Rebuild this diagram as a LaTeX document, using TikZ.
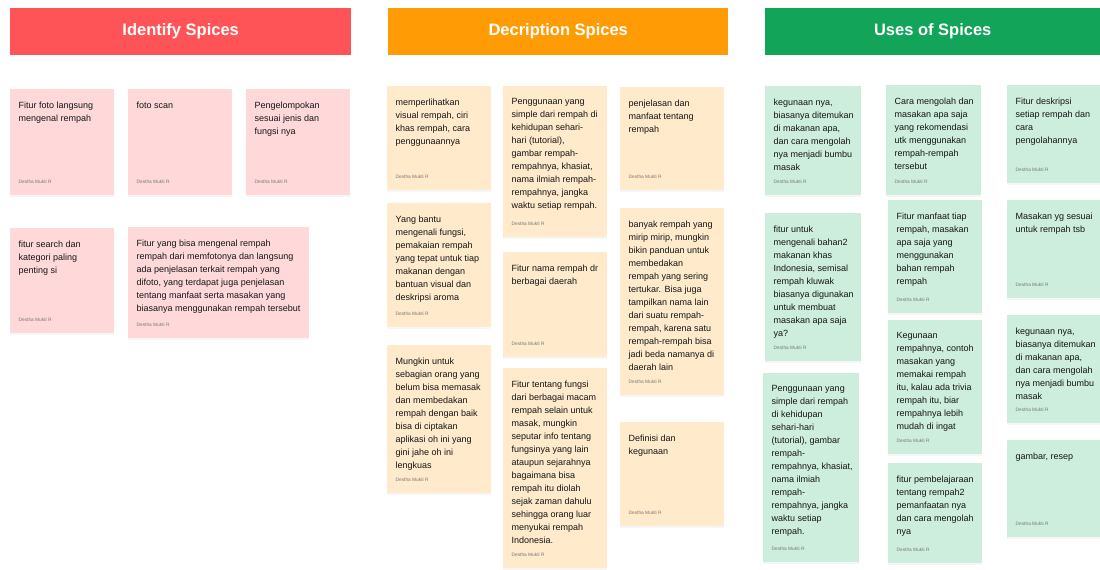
\documentclass[tikz,border=0pt]{standalone}
\usepackage{fontspec}
\setmainfont{Liberation Sans}
\usetikzlibrary{shadows}
\definecolor{hred}{HTML}{FF5457}
\definecolor{horange}{HTML}{FF9C05}
\definecolor{hgreen}{HTML}{12A559}
\definecolor{pinknote}{HTML}{FFD9DA}
\definecolor{creamnote}{HTML}{FFEACB}
\definecolor{mintnote}{HTML}{CDEEDD}
\definecolor{authorgrey}{HTML}{777777}
\definecolor{notetext}{HTML}{151515}
\tikzset{
 header/.style={rectangle, inner sep=0pt, anchor=north west, text=white, font=\fontsize{16.5}{19}\selectfont\bfseries},
 note/.style={rectangle, inner sep=0pt, anchor=north west, drop shadow={shadow xshift=0pt, shadow yshift=-1.5pt, opacity=0.07}},
 notetxt/.style={inner sep=0pt, anchor=north west, align=left, text=notetext, font=\fontsize{9}{13}\selectfont},
 author/.style={inner sep=0pt, anchor=west, text=authorgrey, font=\fontsize{4.8}{5}\selectfont},
}
\newcommand\stickynote[7]{%
 \node[note, fill=#6, minimum width=#4pt, minimum height=#5pt] (#1) at (#2,#3) {};
 \node[notetxt] (#1t) at ([xshift=8.5pt,yshift=-12.5pt]#1.north west) {#7};
 \node[author] (#1a) at ([xshift=8.5pt,yshift=14pt]#1.south west) {Destha Mukti R};
}
\begin{document}
\begin{tikzpicture}[x=1pt,y=-1pt]
\useasboundingbox (0,0) rectangle (1100,570);
\fill[white] (0,0) rectangle (1100,570);
% headers
\node[header, fill=hred, minimum width=341pt, minimum height=47pt] (h1) at (10,8) {Identify Spices};
\node[header, fill=horange, minimum width=340pt, minimum height=47pt] (h2) at (388,8) {Decription Spices};
\node[header, fill=hgreen, minimum width=335pt, minimum height=47pt] (h3) at (765,8) {Uses of Spices};
% Identify
\stickynote{a1}{10}{89}{104}{106}{pinknote}{Fitur foto langsung\\mengenal rempah}
\stickynote{a2}{128}{89}{104}{106}{pinknote}{foto scan}
\stickynote{a3}{246}{89}{104}{106}{pinknote}{Pengelompokan\\sesuai jenis dan\\fungsi nya}
\stickynote{a4}{10}{228}{104}{105}{pinknote}{fitur search dan\\kategori paling\\penting si}
\stickynote{a5}{128}{227}{181}{111}{pinknote}{Fitur yang bisa mengenal rempah\\rempah dari memfotonya dan langsung\\ada penjelasan terkait rempah yang\\difoto, yang terdapat juga penjelasan\\tentang manfaat serta masakan yang\\biasanya menggunakan rempah tersebut}
% Description
\stickynote{b1}{387}{86}{104}{104}{creamnote}{memperlihatkan\\visual rempah, ciri\\khas rempah, cara\\penggunaannya}
\stickynote{b2}{387}{203}{104}{124}{creamnote}{Yang bantu\\mengenali fungsi,\\pemakaian rempah\\yang tepat untuk tiap\\makanan dengan\\bantuan visual dan\\deskripsi aroma}
\stickynote{b3}{387}{345}{104}{148}{creamnote}{Mungkin untuk\\sebagian orang yang\\belum bisa memasak\\dan membedakan\\rempah dengan baik\\bisa di ciptakan\\aplikasi oh ini yang\\gini jahe oh ini\\lengkuas}
\stickynote{c1}{503}{86}{104}{151}{creamnote}{Penggunaan yang\\simple dari rempah di\\kehidupan sehari-\\hari (tutorial),\\gambar rempah-\\rempahnya, khasiat,\\nama ilmiah rempah-\\rempahnya, jangka\\waktu setiap rempah.}
\stickynote{c2}{503}{252}{104}{105}{creamnote}{Fitur nama rempah dr\\berbagai daerah}
\stickynote{c3}{503}{368}{104}{200}{creamnote}{Fitur tentang fungsi\\dari berbagai macam\\rempah selain untuk\\masak, mungkin\\seputar info tentang\\fungsinya yang lain\\ataupun sejarahnya\\bagaimana bisa\\rempah itu diolah\\sejak zaman dahulu\\sehingga orang luar\\menyukai rempah\\Indonesia.}
\stickynote{d1}{620}{87}{104}{103}{creamnote}{penjelasan dan\\manfaat tentang\\rempah}
\stickynote{d2}{620}{208}{104}{187}{creamnote}{banyak rempah yang\\mirip mirip, mungkin\\bikin panduan untuk\\membedakan\\rempah yang sering\\tertukar. Bisa juga\\tampilkan nama lain\\dari suatu rempah-\\rempah, karena satu\\rempah-rempah bisa\\jadi beda namanya di\\daerah lain}
\stickynote{d3}{620}{422}{104}{104}{creamnote}{Definisi dan\\kegunaan}
% Uses
\stickynote{e1}{765}{86}{96}{109}{mintnote}{kegunaan nya,\\biasanya ditemukan\\di makanan apa,\\dan cara mengolah\\nya menjadi bumbu\\masak}
\stickynote{e2}{765}{213}{96}{148}{mintnote}{fitur untuk\\mengenali bahan2\\makanan khas\\Indonesia, semisal\\rempah kluwak\\biasanya digunakan\\untuk membuat\\masakan apa saja\\ya?}
\stickynote{e3}{763}{373}{96}{189}{mintnote}{Penggunaan yang\\simple dari rempah\\di kehidupan\\sehari-hari\\(tutorial), gambar\\rempah-\\rempahnya, khasiat,\\nama ilmiah\\rempah-\\rempahnya, jangka\\waktu setiap\\rempah.}
\stickynote{f1}{886}{85}{95}{110}{mintnote}{Cara mengolah dan\\masakan apa saja\\yang rekomendasi\\utk menggunakan\\rempah-rempah\\tersebut}
\stickynote{f2}{888}{200}{94}{113}{mintnote}{Fitur manfaat tiap\\rempah, masakan\\apa saja yang\\menggunakan\\bahan rempah\\rempah}
\stickynote{f3}{888}{320}{94}{134}{mintnote}{Kegunaan\\rempahnya, contoh\\masakan yang\\memakai rempah\\itu, kalau ada trivia\\rempah itu, biar\\rempahnya lebih\\mudah di ingat}
\stickynote{f4}{888}{463}{94}{100}{mintnote}{fitur pembelajaraan\\tentang rempah2\\pemanfaatan nya\\dan cara mengolah\\nya}
\stickynote{g1}{1007}{85}{93}{98}{mintnote}{Fitur deskripsi\\setiap rempah dan\\cara\\pengolahannya}
\stickynote{g2}{1007}{200}{93}{98}{mintnote}{Masakan yg sesuai\\untuk rempah tsb}
\stickynote{g3}{1007}{315}{93}{108}{mintnote}{kegunaan nya,\\biasanya ditemukan\\di makanan apa,\\dan cara mengolah\\nya menjadi bumbu\\masak}
\stickynote{g4}{1007}{440}{93}{97}{mintnote}{gambar, resep}
\end{tikzpicture}
\end{document}
